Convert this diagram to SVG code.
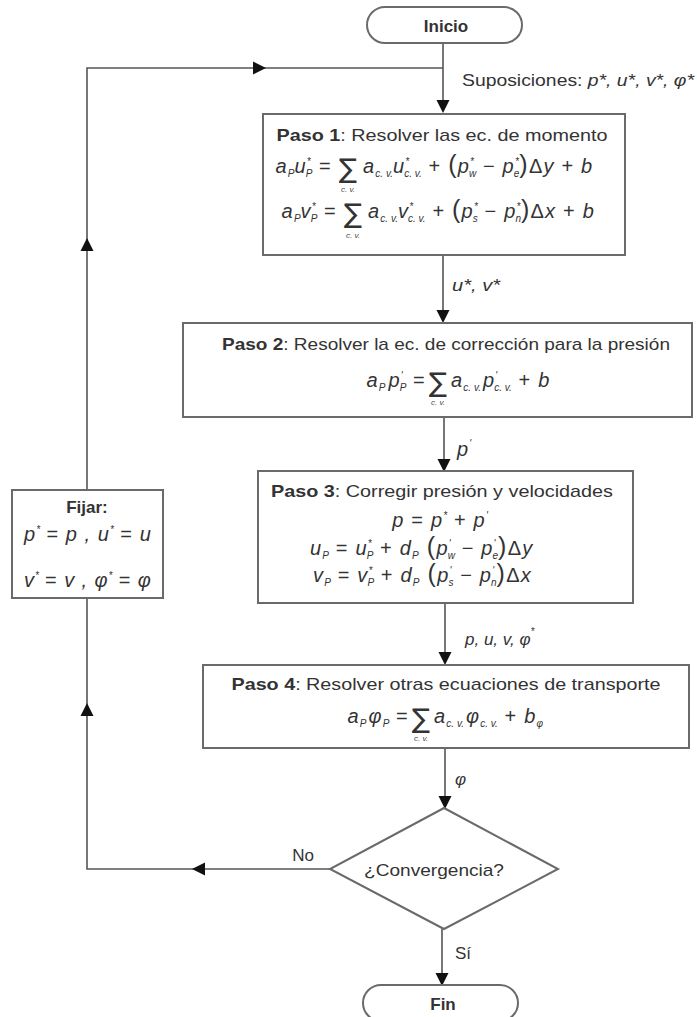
<svg xmlns="http://www.w3.org/2000/svg" xmlns:xlink="http://www.w3.org/1999/xlink" width="697" height="1017" viewBox="0 0 697 1017">
<style>
.ln{stroke:#555;stroke-width:1.6;fill:none}
.bx{fill:#fff;stroke:#6a6a6a;stroke-width:2}
.t{font-family:"Liberation Sans",Arial,sans-serif;fill:#333;font-size:17px}
.b{font-weight:bold}
.eq{font-family:"Liberation Sans",Arial,sans-serif;font-style:italic;fill:#333;font-size:20px;letter-spacing:1.2px}
.up{font-style:normal}
.sb{font-size:10px;letter-spacing:0}
.par{font-style:normal;font-size:25px}
.sig{font-family:"DejaVu Sans",sans-serif;font-size:27px;fill:#333}
.cv{font-family:"Liberation Sans",sans-serif;font-style:italic;font-size:8px;fill:#444}
.lab{font-family:"Liberation Sans",Arial,sans-serif;fill:#333;font-size:17px}
.ah{fill:#111}
</style>
<defs>
<path id="ah" class="ah" d="M0,0 L-13,-6.5 L-13,6.5 Z"/>
</defs>

<g id="connectors">
<path class="ln" d="M443,43 V110"/>
<path class="ln" d="M443,255 V320"/>
<path class="ln" d="M444,417 V469"/>
<path class="ln" d="M445,603 V662"/>
<path class="ln" d="M445,748 V806"/>
<path class="ln" d="M442,929 V983"/>
<path class="ln" d="M330,869 H87 V598"/>
<path class="ln" d="M87,490 V68 H443"/>
<use xlink:href="#ah" transform="translate(443,113) rotate(90)"/>
<use xlink:href="#ah" transform="translate(443,323) rotate(90)"/>
<use xlink:href="#ah" transform="translate(444,472) rotate(90)"/>
<use xlink:href="#ah" transform="translate(445,665) rotate(90)"/>
<use xlink:href="#ah" transform="translate(445,809) rotate(90)"/>
<use xlink:href="#ah" transform="translate(442,986) rotate(90)"/>
<use xlink:href="#ah" transform="translate(192,869) rotate(180)"/>
<use xlink:href="#ah" transform="translate(87,703) rotate(-90)"/>
<use xlink:href="#ah" transform="translate(87,238) rotate(-90)"/>
<use xlink:href="#ah" transform="translate(266,68)"/>
<text class="lab" x="462" y="86" textLength="232" lengthAdjust="spacingAndGlyphs">Suposiciones: <tspan font-style="italic">p*, u*, v*, φ*</tspan></text>
<text class="lab" x="452" y="291" font-style="italic" textLength="48" lengthAdjust="spacingAndGlyphs">u*, v*</text>
<text class="eq" x="457" y="456">p<tspan class="sb" dy="-9">'</tspan></text>
<text class="lab" x="465" y="645" font-style="italic" font-size="18">p, u, v, φ<tspan class="sb" dy="-10">*</tspan></text>
<text class="lab" x="455" y="785" font-style="italic" font-size="18">φ</text>
<text class="lab" x="303" y="861" text-anchor="middle" font-size="18">No</text>
<text class="lab" x="455" y="959">Sí</text>
</g>

<g id="inicio">
<rect class="bx" x="367" y="7" width="155" height="36" rx="18"/>
<text class="t b" x="446" y="32" text-anchor="middle" font-size="19">Inicio</text>
</g>

<g id="paso1">
<rect class="bx" x="263" y="114" width="362" height="141"/>
<text class="t" x="442" y="141" text-anchor="middle" textLength="331" lengthAdjust="spacingAndGlyphs"><tspan class="b">Paso 1</tspan>:  Resolver las ec. de momento</text>
<text class="eq" x="332" y="173" text-anchor="end">a<tspan class="sb" dy="4">P</tspan><tspan dy="-4">u</tspan><tspan class="sb" dy="-8">*</tspan><tspan class="sb" dy="12" dx="-5">P</tspan><tspan class="up" dy="-4"> =</tspan></text>
<text class="sig" x="348" y="178" text-anchor="middle">∑</text>
<text class="cv" x="348" y="192" text-anchor="middle">c. v.</text>
<text class="eq" x="363" y="173">a<tspan class="sb" dy="4">c. v.</tspan><tspan dy="-4">u</tspan><tspan class="sb" dy="-8">*</tspan><tspan class="sb" dy="12" dx="-5">c. v.</tspan><tspan class="up" dy="-4"> + </tspan><tspan class="par">(</tspan>p<tspan class="sb" dy="-8">*</tspan><tspan class="sb" dy="12" dx="-5">w</tspan><tspan class="up" dy="-4"> − </tspan>p<tspan class="sb" dy="-8">*</tspan><tspan class="sb" dy="12" dx="-5">e</tspan><tspan class="par" dy="-4">)</tspan><tspan class="up">Δ</tspan>y<tspan class="up"> + </tspan>b</text>
<text class="eq" x="337" y="218" text-anchor="end">a<tspan class="sb" dy="4">P</tspan><tspan dy="-4">v</tspan><tspan class="sb" dy="-8">*</tspan><tspan class="sb" dy="12" dx="-5">P</tspan><tspan class="up" dy="-4"> =</tspan></text>
<text class="sig" x="353" y="223" text-anchor="middle">∑</text>
<text class="cv" x="353" y="238" text-anchor="middle">c. v.</text>
<text class="eq" x="368" y="218">a<tspan class="sb" dy="4">c. v.</tspan><tspan dy="-4">v</tspan><tspan class="sb" dy="-8">*</tspan><tspan class="sb" dy="12" dx="-5">c. v.</tspan><tspan class="up" dy="-4"> + </tspan><tspan class="par">(</tspan>p<tspan class="sb" dy="-8">*</tspan><tspan class="sb" dy="12" dx="-5">s</tspan><tspan class="up" dy="-4"> − </tspan>p<tspan class="sb" dy="-8">*</tspan><tspan class="sb" dy="12" dx="-5">n</tspan><tspan class="par" dy="-4">)</tspan><tspan class="up">Δ</tspan>x<tspan class="up"> + </tspan>b</text>
</g>

<g id="paso2">
<rect class="bx" x="183" y="323" width="509" height="94"/>
<text class="t" x="446" y="350" text-anchor="middle" textLength="448" lengthAdjust="spacingAndGlyphs"><tspan class="b">Paso 2</tspan>: Resolver la ec. de corrección para la presión</text>
<text class="eq" x="426" y="387" text-anchor="end">a<tspan class="sb" dy="4">P</tspan><tspan dy="-4" dx="3">p</tspan><tspan class="sb" dy="-8">'</tspan><tspan class="sb" dy="12" dx="-3">P</tspan><tspan class="up" dy="-4">  =</tspan></text>
<text class="sig" x="438" y="392" text-anchor="middle">∑</text>
<text class="cv" x="438" y="405" text-anchor="middle">c. v.</text>
<text class="eq" x="451" y="387">a<tspan class="sb" dy="4">c. v.</tspan><tspan dy="-4" dx="2">p</tspan><tspan class="sb" dy="-8">'</tspan><tspan class="sb" dy="12" dx="-3">c. v.</tspan><tspan class="up" dy="-4">  + </tspan>b</text>
</g>

<g id="paso3">
<rect class="bx" x="258" y="471" width="375" height="132"/>
<text class="t" x="442" y="497" text-anchor="middle" textLength="342" lengthAdjust="spacingAndGlyphs"><tspan class="b">Paso 3</tspan>: Corregir presión y velocidades</text>
<text class="eq" x="440" y="527" text-anchor="middle">p<tspan class="up"> = </tspan>p<tspan class="sb" dy="-8">*</tspan><tspan class="up" dy="8"> + </tspan>p<tspan class="sb" dy="-8">'</tspan></text>
<text class="eq" x="310" y="555">u<tspan class="sb" dy="4">P</tspan><tspan class="up" dy="-4"> = </tspan>u<tspan class="sb" dy="-8">*</tspan><tspan class="sb" dy="12" dx="-5">P</tspan><tspan class="up" dy="-4"> + </tspan>d<tspan class="sb" dy="4">P</tspan><tspan class="par" dy="-4">  (</tspan>p<tspan class="sb" dy="-8">'</tspan><tspan class="sb" dy="12" dx="-3">w</tspan><tspan class="up" dy="-4"> − </tspan>p<tspan class="sb" dy="-8">'</tspan><tspan class="sb" dy="12" dx="-3">e</tspan><tspan class="par" dy="-4">)</tspan><tspan class="up">Δ</tspan>y</text>
<text class="eq" x="313" y="582">v<tspan class="sb" dy="4">P</tspan><tspan class="up" dy="-4"> = </tspan>v<tspan class="sb" dy="-8">*</tspan><tspan class="sb" dy="12" dx="-5">P</tspan><tspan class="up" dy="-4"> + </tspan>d<tspan class="sb" dy="4">P</tspan><tspan class="par" dy="-4">  (</tspan>p<tspan class="sb" dy="-8">'</tspan><tspan class="sb" dy="12" dx="-3">s</tspan><tspan class="up" dy="-4"> − </tspan>p<tspan class="sb" dy="-8">'</tspan><tspan class="sb" dy="12" dx="-3">n</tspan><tspan class="par" dy="-4">)</tspan><tspan class="up">Δ</tspan>x</text>
</g>

<g id="paso4">
<rect class="bx" x="203" y="665" width="486" height="83"/>
<text class="t" x="446" y="690" text-anchor="middle" textLength="429" lengthAdjust="spacingAndGlyphs"><tspan class="b">Paso 4</tspan>:  Resolver otras ecuaciones de transporte</text>
<text class="eq" x="409" y="723" text-anchor="end">a<tspan class="sb" dy="4">P</tspan><tspan dy="-4" dx="2">φ</tspan><tspan class="sb" dy="4">P</tspan><tspan class="up" dy="-4">  =</tspan></text>
<text class="sig" x="421" y="728" text-anchor="middle">∑</text>
<text class="cv" x="421" y="741" text-anchor="middle">c. v.</text>
<text class="eq" x="434" y="723">a<tspan class="sb" dy="4">c. v.</tspan><tspan dy="-4" dx="2">φ</tspan><tspan class="sb" dy="4">c. v.</tspan><tspan class="up" dy="-4">  + </tspan>b<tspan class="sb" dy="4">φ</tspan></text>
</g>

<g id="convergencia">
<polygon class="bx" points="444,808 558,869 444,929 330,869"/>
<text class="lab" x="434" y="876" text-anchor="middle" textLength="140" lengthAdjust="spacingAndGlyphs">¿Convergencia?</text>
</g>

<g id="fijar">
<rect class="bx" x="12" y="490" width="151" height="108"/>
<text class="t b" x="87" y="513" text-anchor="middle" font-size="16">Fijar:</text>
<text class="eq" x="88" y="541" text-anchor="middle" textLength="128" lengthAdjust="spacing">p<tspan class="sb" dy="-8">*</tspan><tspan class="up" dy="8"> = </tspan>p , u<tspan class="sb" dy="-8">*</tspan><tspan class="up" dy="8"> = </tspan>u</text>
<text class="eq" x="88" y="587" text-anchor="middle" textLength="128" lengthAdjust="spacing">v<tspan class="sb" dy="-8">*</tspan><tspan class="up" dy="8"> = </tspan>v , φ<tspan class="sb" dy="-8">*</tspan><tspan class="up" dy="8"> = </tspan>φ</text>
</g>

<g id="fin">
<rect class="bx" x="363" y="985" width="155" height="36" rx="18"/>
<text class="t b" x="443" y="1010" text-anchor="middle" font-size="18">Fin</text>
</g>
</svg>
